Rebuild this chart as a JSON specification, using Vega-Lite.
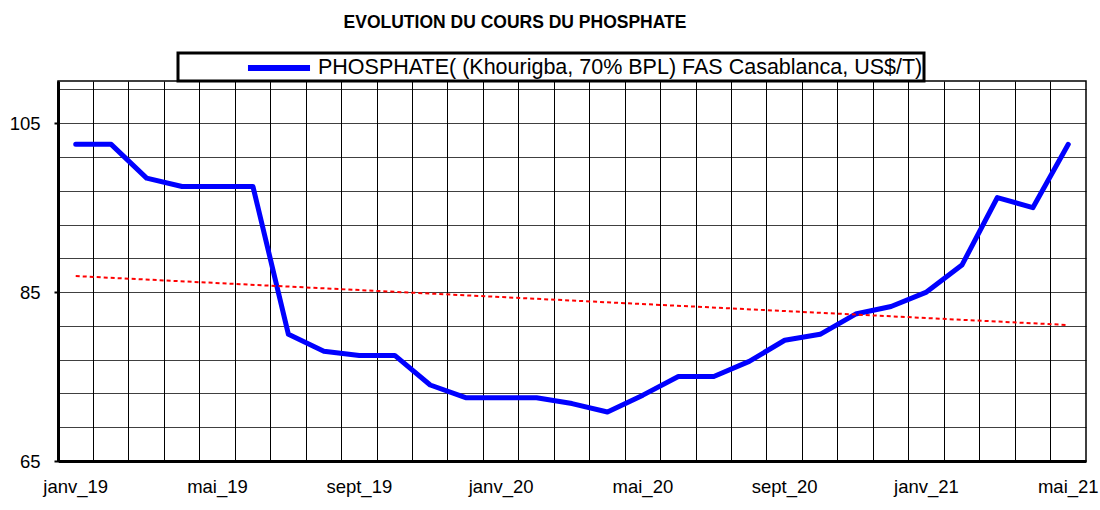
{
  "$schema": "https://vega.github.io/schema/vega-lite/v6.json",
  "width": 1028,
  "height": 380,
  "autosize": {"type": "none"},
  "padding": {"left": 58, "top": 81, "right": 14, "bottom": 49},
  "background": "white",
  "config": {
    "font": "Liberation Sans",
    "view": {"stroke": "black", "strokeWidth": 1.5},
    "axis": {"labelFont": "Liberation Sans", "labelColor": "black", "labelFontSize": 18.5}
  },
  "title": {
    "text": "EVOLUTION DU COURS DU PHOSPHATE",
    "font": "Liberation Sans",
    "fontSize": 17.5,
    "fontWeight": "bold",
    "color": "black",
    "anchor": "middle",
    "frame": "group",
    "dx": -57,
    "offset": 20
  },
  "data": {
    "values": [
      {"month": "janv_19", "price": 102.5, "trend": 86.9},
      {"month": "févr_19", "price": 102.5},
      {"month": "mars_19", "price": 98.5},
      {"month": "avr_19", "price": 97.5},
      {"month": "mai_19", "price": 97.5},
      {"month": "juin_19", "price": 97.5},
      {"month": "juil_19", "price": 80.0},
      {"month": "août_19", "price": 78.0},
      {"month": "sept_19", "price": 77.5},
      {"month": "oct_19", "price": 77.5},
      {"month": "nov_19", "price": 74.0},
      {"month": "déc_19", "price": 72.5},
      {"month": "janv_20", "price": 72.5},
      {"month": "févr_20", "price": 72.5},
      {"month": "mars_20", "price": 71.8},
      {"month": "avr_20", "price": 70.8},
      {"month": "mai_20", "price": 72.8},
      {"month": "juin_20", "price": 75.0},
      {"month": "juil_20", "price": 75.0},
      {"month": "août_20", "price": 76.8},
      {"month": "sept_20", "price": 79.3},
      {"month": "oct_20", "price": 80.0},
      {"month": "nov_20", "price": 82.4},
      {"month": "déc_20", "price": 83.3},
      {"month": "janv_21", "price": 85.0},
      {"month": "févr_21", "price": 88.2},
      {"month": "mars_21", "price": 96.2},
      {"month": "avr_21", "price": 95.0},
      {"month": "mai_21", "price": 102.5, "trend": 81.1}
    ]
  },
  "layer": [
    {
      "mark": {"type": "line", "strokeWidth": 5, "strokeCap": "round", "strokeJoin": "round"},
      "encoding": {
        "x": {
          "field": "month", "type": "nominal", "sort": null,
          "scale": {"type": "band", "paddingInner": 0, "paddingOuter": 0},
          "axis": {"orient": "top", "title": null, "labels": false, "ticks": false, "domain": false,
                   "grid": true, "bandPosition": 0, "gridColor": "black", "gridWidth": 1, "gridOpacity": 1}
        },
        "y": {
          "field": "price", "type": "quantitative",
          "scale": {"domain": [65, 110], "nice": false, "zero": false},
          "axis": {"orient": "right", "title": null, "labels": false, "ticks": false, "domain": false,
                   "grid": true, "values": [65, 69, 73, 77, 81, 85, 89, 93, 97, 101, 105, 109],
                   "gridColor": "black", "gridWidth": 1, "gridOpacity": 0.75}
        },
        "color": {
          "datum": "PHOSPHATE( (Khourigba, 70% BPL) FAS Casablanca, US$/T)",
          "type": "nominal",
          "scale": {"range": ["#0000ff"]},
          "legend": {
            "title": null,
            "orient": "none",
            "legendX": 120,
            "legendY": -28,
            "strokeColor": "black",
            "fillColor": "white",
            "padding": 1,
            "symbolType": "M-2.82,0L2.82,0",
            "symbolStrokeWidth": 6,
            "symbolStrokeColor": "#0000ff",
            "symbolSize": 484,
            "symbolOffset": 86,
            "labelFontSize": 21.5,
            "labelFont": "Liberation Sans",
            "labelColor": "black",
            "labelLimit": 900,
            "labelOffset": 25,
            "encode": {"legend": {"update": {"strokeWidth": {"value": 3}}}}
          }
        }
      }
    },
    {
      "transform": [{"filter": "datum.trend != null"}],
      "mark": {"type": "line", "color": "#ff0000", "strokeWidth": 2, "strokeDash": [4, 3]},
      "encoding": {
        "x": {
          "field": "month", "type": "nominal", "sort": null,
          "axis": {"orient": "bottom", "title": null, "grid": false,
                   "values": ["janv_19", "mai_19", "sept_19", "janv_20", "mai_20", "sept_20", "janv_21", "mai_21"],
                   "labelAngle": 0, "labelPadding": 16, "ticks": false,
                   "domainColor": "black", "domainWidth": 3}
        },
        "y": {
          "field": "trend", "type": "quantitative",
          "axis": {"orient": "left", "title": null, "grid": false, "values": [65, 85, 105],
                   "tickColor": "black", "tickSize": 4, "tickWidth": 2, "labelPadding": 14,
                   "domainColor": "black", "domainWidth": 3}
        }
      }
    }
  ],
  "resolve": {"axis": {"x": "independent", "y": "independent"}}
}
